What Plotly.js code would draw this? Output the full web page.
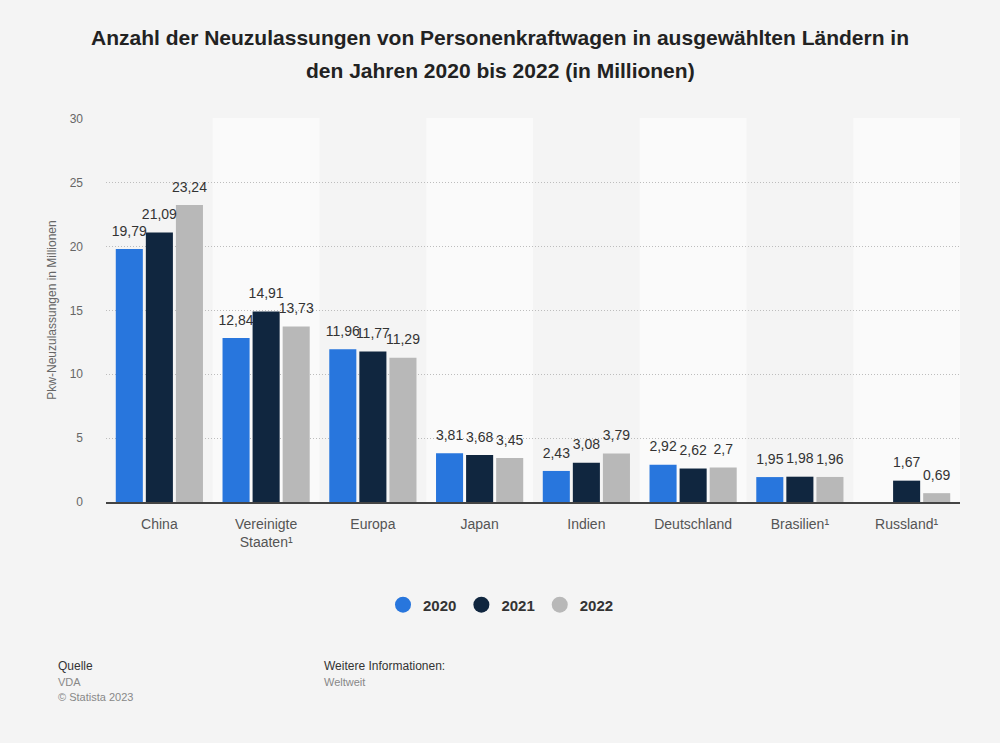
<!DOCTYPE html>
<html><head><meta charset="utf-8">
<script src="https://cdn.plot.ly/plotly-3.0.1.min.js"></script>
<style>html,body{margin:0;padding:0;background:#f4f4f4;}#chart{width:1000px;height:743px;}</style>
</head><body><div id="chart"></div>
<script>
var categories = ["China", "Vereinigte<br>Staaten¹", "Europa", "Japan", "Indien", "Deutschland", "Brasilien¹", "Russland¹"];
var years = ["2020", "2021", "2022"];
var values2020 = [19.79, 12.84, 11.96, 3.81, 2.43, 2.92, 1.95, null];
var values2021 = [21.09, 14.91, 11.77, 3.68, 3.08, 2.62, 1.98, 1.67];
var values2022 = [23.24, 13.73, 11.29, 3.45, 3.79, 2.70, 1.96, 0.69];
var colors = ["#2876dd", "#10263f", "#b8b8b8"];
var series = [values2020, values2021, values2022];

function fmt(v){ return v === null ? "" : String(v).replace(".", ","); }

var FONT = "Liberation Sans, Arial, sans-serif";
var traces = [];
series.forEach(function(vals, i){
  traces.push({
    type: "bar", x: categories, y: vals, name: years[i],
    marker: {color: colors[i]}, showlegend: false, hoverinfo: "x+y"
  });
});
// value labels, grouped to sit over their bars
series.forEach(function(vals, i){
  traces.push({
    type: "scatter", mode: "markers+text", x: categories, y: vals, name: years[i] + " Werte",
    marker: {size: 14, opacity: 0, color: colors[i]},
    text: vals.map(fmt), textposition: "top center", cliponaxis: false, showlegend: false,
    textfont: {family: FONT, size: 14, color: "#333"}, hoverinfo: "skip"
  });
});
// legend entries (on a hidden helper axis so they do not take group slots)
series.forEach(function(vals, i){
  traces.push({
    type: "scatter", mode: "markers", x: [null], y: [null], name: "<b>" + years[i] + "</b>",
    xaxis: "x2", yaxis: "y2",
    marker: {color: colors[i], size: 16, symbol: "circle"}, hoverinfo: "skip"
  });
});

var shapes = [];
categories.forEach(function(c, i){
  if (i % 2 === 1) {
    shapes.push({type: "rect", xref: "x", yref: "paper", x0: i - 0.5, x1: i + 0.5, y0: 0, y1: 1,
      fillcolor: "#fafafa", line: {width: 0}, layer: "below"});
  }
});

function px(xp){ return (xp - 106) / (1000 - 106 - 40); }
function py(yp){ return (502 - yp) / (502 - 118); }

var layout = {
  width: 1000, height: 743,
  paper_bgcolor: "#f4f4f4", plot_bgcolor: "#f4f4f4",
  font: {family: FONT, color: "#444"},
  margin: {l: 106, r: 40, t: 118, b: 241},
  title: {text: "<b>Anzahl der Neuzulassungen von Personenkraftwagen in ausgewählten Ländern in</b>",
    font: {size: 21, color: "#222", family: FONT},
    x: 0.5, xanchor: "center", y: 1 - 38/743, yanchor: "middle", yref: "container"},
  barmode: "group", bargap: 0.155, bargroupgap: 0.1,
  scattermode: "group", scattergap: 0.155,
  xaxis: {type: "category", tickfont: {size: 14, color: "#555"}, showline: true, linecolor: "#444", linewidth: 2,
    ticks: "", showgrid: false, fixedrange: true, range: [-0.5, 7.5], ticklabelstandoff: 8},
  yaxis: {range: [0, 30.05], tickvals: [0, 5, 10, 15, 20, 25, 30], showgrid: true, gridcolor: "#bdbdbd", griddash: "1px,2px", gridwidth: 1,
    zeroline: false, tickfont: {size: 12, color: "#666"}, ticklen: 0, ticks: "", ticklabelstandoff: 22,
    title: {text: "Pkw-Neuzulassungen in Millionen", font: {size: 12, color: "#666"}, standoff: 10}},
  xaxis2: {overlaying: "x", visible: false, showgrid: false, zeroline: false},
  yaxis2: {overlaying: "y", visible: false, showgrid: false, zeroline: false},
  shapes: shapes,
  showlegend: true,
  legend: {orientation: "h", x: 0.5 - 32/854, xanchor: "center", y: -0.268, yanchor: "middle",
    font: {size: 15, color: "#333", family: FONT}, itemwidth: 30, traceorder: "normal"}
};

layout.annotations = [
  {text: "<b>den Jahren 2020 bis 2022 (in Millionen)</b>", x: 0.5 - 33/854, y: py(70), xanchor: "center", font: {size: 21, color: "#222", family: FONT}},
  {text: "Quelle", x: px(56), y: py(666), font: {size: 12, color: "#333"}},
  {text: "VDA", x: px(56), y: py(682), font: {size: 11, color: "#888"}},
  {text: "© Statista 2023", x: px(56), y: py(697), font: {size: 11, color: "#888"}},
  {text: "Weitere Informationen:", x: px(322), y: py(666), font: {size: 12, color: "#333"}},
  {text: "Weltweit", x: px(322), y: py(682), font: {size: 11, color: "#888"}}
].map(function(a){ a.xref = "paper"; a.yref = "paper"; if (!a.xanchor) a.xanchor = "left"; a.yanchor = "middle"; a.showarrow = false; return a; });

Plotly.newPlot("chart", traces, layout, {displayModeBar: false, staticPlot: true});
</script></body></html>
